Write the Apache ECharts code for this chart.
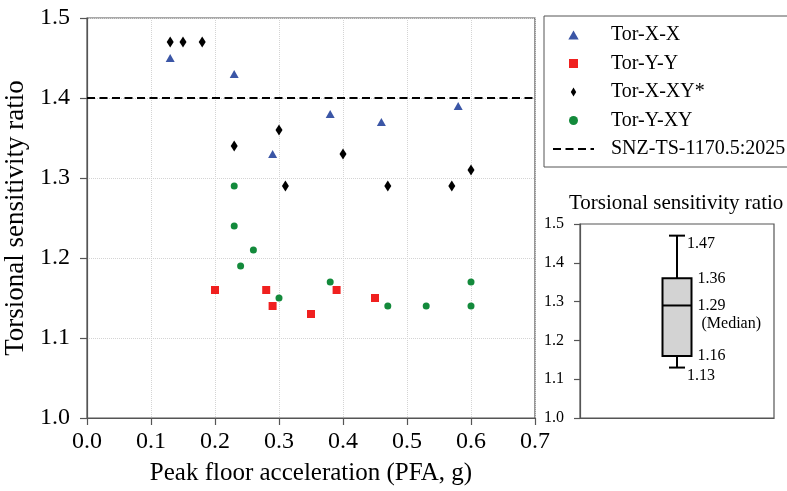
<!DOCTYPE html>
<html><head><meta charset="utf-8">
<script src="https://cdn.jsdelivr.net/npm/echarts@6/dist/echarts.min.js"></script>
<style>html,body{margin:0;padding:0;background:#fff}#c{width:787px;height:491px}</style>
</head><body><div id="c"></div>
<script>
// ---- data ----
const torXX  = [[0.13,1.45],[0.23,1.43],[0.29,1.33],[0.38,1.38],[0.46,1.37],[0.58,1.39]];
const torYY  = [[0.20,1.16],[0.28,1.16],[0.29,1.14],[0.35,1.13],[0.39,1.16],[0.45,1.15]];
const torXXY = [[0.13,1.47],[0.15,1.47],[0.18,1.47],[0.23,1.34],[0.30,1.36],[0.31,1.29],[0.40,1.33],[0.47,1.29],[0.57,1.29],[0.60,1.31]];
const torYXY = [[0.23,1.29],[0.23,1.24],[0.24,1.19],[0.26,1.21],[0.30,1.15],[0.38,1.17],[0.47,1.14],[0.53,1.14],[0.60,1.14],[0.60,1.17]];
const codeLimit = 1.4;
const xTicks = [0.0,0.1,0.2,0.3,0.4,0.5,0.6,0.7];
const yTicks = [1.0,1.1,1.2,1.3,1.4,1.5];
const boxStats = [1.13,1.16,1.29,1.36,1.47]; // low whisker, q1, median, q3, high whisker
const seriesNames = ['Tor-X-X','Tor-Y-Y','Tor-X-XY*','Tor-Y-XY','SNZ-TS-1170.5:2025'];
const boxTitle = 'Torsional sensitivity ratio';
const xTitle = 'Peak floor acceleration (PFA, g)';
const yTitle = 'Torsional sensitivity ratio';

// ---- style ----
const FONT = "'Liberation Serif','Times New Roman',serif";
const AX = '#555';
const fmt1 = v => (Math.round(v*10)/10).toFixed(1);

const chart = echarts.init(document.getElementById('c'), null, {renderer:'canvas'});
const option = {
  animation: false,
  backgroundColor: '#fff',
  title: {text: boxTitle, left: 569, top: 193, padding: 0,
    textStyle: {fontSize: 21, fontWeight: 'normal', fontFamily: FONT, color: '#000'}},
  graphic: [{type:'rect', shape:{x:544, y:16, width:300, height:151},
    style:{fill:'none', stroke:AX, lineWidth:1}, z:100}],
  legend: {
    orient: 'vertical', left: 552, top: 25, padding: 0,
    itemWidth: 41, itemHeight: 9, itemGap: 8.5, symbolKeepAspect: true,
    textStyle: {fontSize: 20, fontFamily: FONT, color: '#000', lineHeight: 20, padding: [0,0,0,12]},
    data: [
      {name: seriesNames[0], icon: 'path://M5,0L10,8.7L0,8.7Z'},
      {name: seriesNames[1], icon: 'path://M0,0H10V10H0Z'},
      {name: seriesNames[2], icon: 'path://M3,0L6,5L3,10L0,5Z'},
      {name: seriesNames[3], icon: 'circle'},
      {name: seriesNames[4], itemStyle: {opacity: 0, color: 'rgba(0,0,0,0)', borderWidth: 0}}
    ]
  },
  grid: [
    {left: 87, right: 252, top: 18, bottom: 73, outerBoundsMode: 'none', containLabel: false,
     show: true, borderColor: AX, borderWidth: 1.2, backgroundColor: 'transparent'},
    {left: 580, right: 13, top: 224, bottom: 73, outerBoundsMode: 'none', containLabel: false,
     show: true, borderColor: AX, borderWidth: 1.2, backgroundColor: 'transparent'}
  ],
  xAxis: [
    {type:'value', gridIndex:0, min: xTicks[0], max: xTicks[xTicks.length-1], interval: 0.1,
     name: xTitle, nameLocation:'middle', nameGap: 43,
     nameTextStyle:{fontSize:25, fontFamily:FONT, color:'#000'},
     axisLine:{show:true, onZero:false, lineStyle:{color:AX, width:1.2}},
     axisTick:{show:true, length:7, lineStyle:{color:AX, width:1.2}},
     axisLabel:{fontSize:24, fontFamily:FONT, color:'#000', margin:12, formatter: fmt1},
     splitLine:{show:true, lineStyle:{color:'#d4d4d4', type:'dotted', width:1}}},
    {type:'value', gridIndex:1, min:0, max:1,
     axisLine:{show:true, onZero:false, lineStyle:{color:AX, width:1.2}},
     axisTick:{show:false}, axisLabel:{show:false}, splitLine:{show:false}}
  ],
  yAxis: [
    {type:'value', gridIndex:0, min: yTicks[0], max: yTicks[yTicks.length-1], interval: 0.1,
     name: yTitle, nameLocation:'middle', nameGap: 54,
     nameTextStyle:{fontSize:27, fontFamily:FONT, color:'#000'},
     axisLine:{show:true, onZero:false, lineStyle:{color:AX, width:1.2}},
     axisTick:{show:true, length:7, lineStyle:{color:AX, width:1.2}},
     axisLabel:{fontSize:24, fontFamily:FONT, color:'#000', margin:17, formatter: fmt1},
     splitLine:{show:true, lineStyle:{color:'#d4d4d4', type:'dotted', width:1}}},
    {type:'value', gridIndex:1, min: yTicks[0], max: yTicks[yTicks.length-1], interval: 0.1,
     axisLine:{show:true, onZero:false, lineStyle:{color:AX, width:1.2}},
     axisTick:{show:true, length:6, lineStyle:{color:AX, width:1.2}},
     axisLabel:{fontSize:16, fontFamily:FONT, color:'#000', margin:16, formatter: fmt1},
     splitLine:{show:false}}
  ],
  series: [
    {name: seriesNames[4], type:'line', xAxisIndex:0, yAxisIndex:0, z:1,
     data: [[xTicks[0], codeLimit],[xTicks[xTicks.length-1], codeLimit]],
     symbol:'none', showSymbol:false, silent:true,
     lineStyle:{color:'#000', width:2, type:[8,4.5]}, itemStyle:{color:'rgba(0,0,0,0)'}},
    {name: seriesNames[0], type:'scatter', xAxisIndex:0, yAxisIndex:0, z:3,
     data: torXX, symbol:'triangle', symbolSize:[9,8], itemStyle:{color:'#3b56a6', opacity:1}},
    {name: seriesNames[1], type:'scatter', xAxisIndex:0, yAxisIndex:0, z:3,
     data: torYY, symbol:'rect', symbolSize:8, itemStyle:{color:'#f0201f', opacity:1}},
    {name: seriesNames[2], type:'scatter', xAxisIndex:0, yAxisIndex:0, z:3,
     data: torXXY, symbol:'diamond', symbolSize:[7,11], itemStyle:{color:'#000', opacity:1}},
    {name: seriesNames[3], type:'scatter', xAxisIndex:0, yAxisIndex:0, z:3,
     data: torYXY, symbol:'circle', symbolSize:7, itemStyle:{color:'#138a3b', opacity:1}},
    {type:'custom', xAxisIndex:1, yAxisIndex:1, z:3,
     data: [[0.5].concat(boxStats)],
     encode: {x:0, y:[1,2,3,4,5]},
     renderItem: function(params, api){
       const xc = api.value(0);
       const pLo = api.coord([xc, api.value(1)]);
       const pQ1 = api.coord([xc, api.value(2)]);
       const pMd = api.coord([xc, api.value(3)]);
       const pQ3 = api.coord([xc, api.value(4)]);
       const pHi = api.coord([xc, api.value(5)]);
       const cx = pLo[0], bw = 29, cw = 16;
       const ls = {stroke:'#000', lineWidth:2};
       const ts = (t, x, y, va) => ({type:'text', x:x, y:y,
         style:{text:t, fill:'#000', fontSize:16, fontFamily:FONT, align:'left', verticalAlign:va}});
       return {type:'group', children:[
         {type:'line', shape:{x1:cx, y1:pHi[1], x2:cx, y2:pQ3[1]}, style:ls},
         {type:'line', shape:{x1:cx, y1:pQ1[1], x2:cx, y2:pLo[1]}, style:ls},
         {type:'line', shape:{x1:cx-cw/2, y1:pHi[1], x2:cx+cw/2, y2:pHi[1]}, style:ls},
         {type:'line', shape:{x1:cx-cw/2, y1:pLo[1], x2:cx+cw/2, y2:pLo[1]}, style:ls},
         {type:'rect', shape:{x:cx-bw/2, y:pQ3[1], width:bw, height:pQ1[1]-pQ3[1]},
          style:{fill:'#d3d3d3', stroke:'#000', lineWidth:2}},
         {type:'line', shape:{x1:cx-bw/2, y1:pMd[1], x2:cx+bw/2, y2:pMd[1]}, style:ls},
         ts(api.value(5).toFixed(2), cx+10, pHi[1], 'top'),
         ts(api.value(4).toFixed(2), cx+bw/2+6, pQ3[1], 'middle'),
         ts(api.value(3).toFixed(2), cx+bw/2+6, pMd[1], 'middle'),
         ts('(Median)', cx+bw/2+10, pMd[1]+18, 'middle'),
         ts(api.value(2).toFixed(2), cx+bw/2+6, pQ1[1], 'middle'),
         ts(api.value(1).toFixed(2), cx+10, pLo[1], 'top')
       ]};
     }}
  ]
};
chart.setOption(option);
</script></body></html>
